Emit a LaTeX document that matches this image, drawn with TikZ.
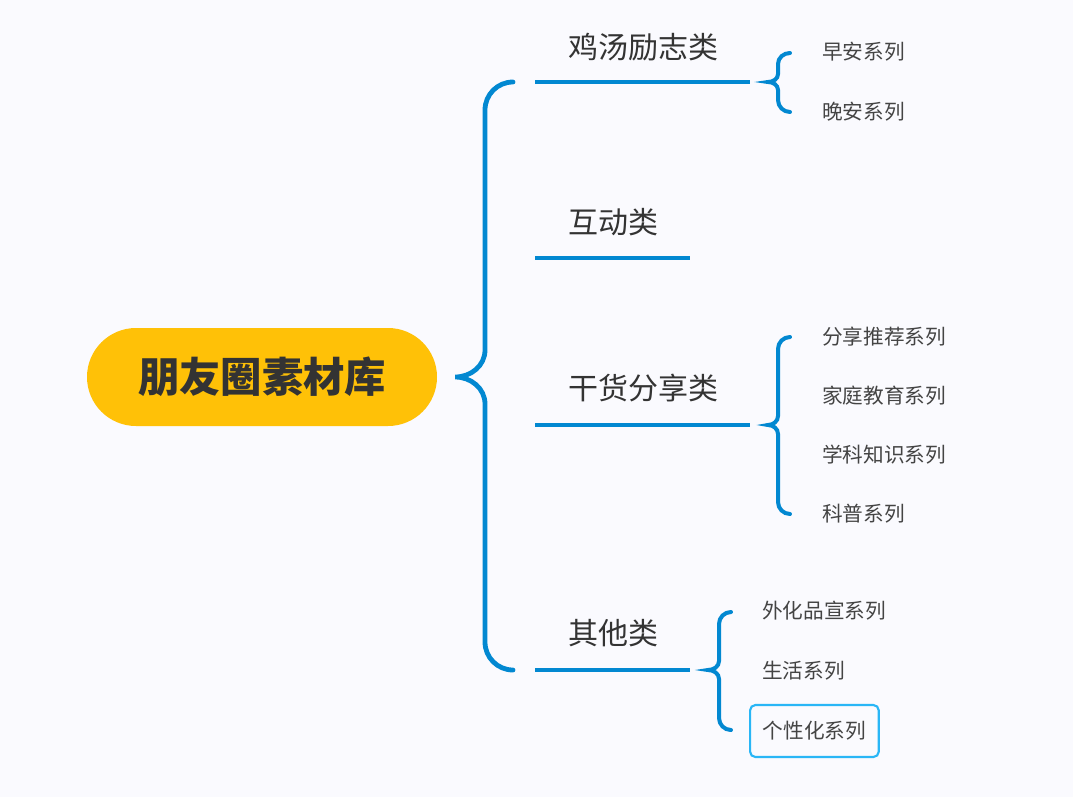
\documentclass[tikz,border=0pt]{standalone}
\usepackage{fontspec}
\newfontfamily\cjk{Noto Sans CJK SC}
\usepackage{tikz}
\usetikzlibrary{positioning, calc}
\definecolor{bgcolor}{RGB}{250,250,254}
\definecolor{linkblue}{RGB}{2,136,209}
\definecolor{rootyellow}{RGB}{255,193,7}
\definecolor{darktext}{RGB}{51,51,51}
\definecolor{itemtext}{RGB}{68,68,68}
\definecolor{boxblue}{RGB}{41,182,246}
\tikzset{
  root/.style={rectangle, rounded corners=36.75pt, fill=rootyellow, text=darktext,
               minimum width=262.5pt, minimum height=73.5pt,
               font=\cjk\bfseries\fontsize{31}{36}\selectfont},
  topic/.style={anchor=west, inner sep=0pt, text=darktext,
                font=\cjk\fontsize{22.5}{27}\selectfont},
  item/.style={anchor=west, inner sep=0pt, text=itemtext,
               font=\cjk\fontsize{15.5}{19}\selectfont},
  pick/.style={anchor=west, draw=boxblue, line width=1.6pt, rounded corners=4pt,
               inner xsep=9.5pt, minimum height=39pt, text=itemtext,
               font=\cjk\fontsize{15.5}{19}\selectfont},
  branch/.style={draw=linkblue, line width=3.6pt},
  bigbrace/.style={draw=linkblue, line width=3.6pt, line cap=round},
  subbrace/.style={draw=linkblue, line width=3pt, line cap=round},
}

\begin{document}
\begin{tikzpicture}[x=0.75pt, y=-0.75pt]
  % Background
  \fill[bgcolor] (0,0) rectangle (1073,797);
  \useasboundingbox (0,0) rectangle (1073,797);

  % Root node
  \node[root] (root) at (262,377) {朋友圈素材库};

  % Topics
  \node[topic] (soup) at (568,47) {鸡汤励志类};
  \node[topic] (talk) at (568,222) {互动类};
  \node[topic] (goods) at (568,388) {干货分享类};
  \node[topic] (other) at (568,633) {其他类};

  % Topic underlines
  \coordinate (soupL) at (535,82);   \coordinate (soupR) at (750,82);
  \coordinate (talkL) at (535,258);  \coordinate (talkR) at (690,258);
  \coordinate (goodsL) at (535,425); \coordinate (goodsR) at (750,425);
  \coordinate (otherL) at (535,670); \coordinate (otherR) at (690,670);
  \draw[branch] (soupL) -- (soupR);
  \draw[branch] (talkL) -- (talkR);
  \draw[branch] (goodsL) -- (goodsR);
  \draw[branch] (otherL) -- (otherR);

  % Main brace
  \draw[bigbrace] ($(soupL)+(-22,0)$) to[out=180,in=90] (485,110) -- (485,350)
    to[out=-90,in=0] ($(root.east)+(18,0)$) to[out=0,in=90] (485,404) -- (485,642)
    to[out=-90,in=180] ($(otherL)+(-22,0)$);

  % Items
  \node[item] (morning) at (822,52) {早安系列};
  \node[item] (night) at (822,112) {晚安系列};

  \node[item] (share) at (822,337) {分享推荐系列};
  \node[item] (family) at (822,396) {家庭教育系列};
  \node[item] (subject) at (822,455) {学科知识系列};
  \node[item] (science) at (822,514) {科普系列};

  \node[item] (promo) at (762,611) {外化品宣系列};
  \node[item] (life) at (762,671) {生活系列};
  \node[pick] (person) at (749,731) {个性化系列};

  % Sub braces
  \draw[subbrace] (790,53) to[out=180,in=90] (778,64) -- (778,74)
    to[out=-90,in=0] ($(soupR)+(18,0)$) to[out=0,in=90] (778,90) -- (778,100)
    to[out=-90,in=180] (790,112);
  \draw[subbrace] (790,337) to[out=180,in=90] (778,349) -- (778,416)
    to[out=-90,in=0] ($(goodsR)+(18,0)$) to[out=0,in=90] (778,434) -- (778,502)
    to[out=-90,in=180] (790,514);
  \draw[subbrace] (731,612) to[out=180,in=90] (719,624) -- (719,661)
    to[out=-90,in=0] ($(otherR)+(18,0)$) to[out=0,in=90] (719,679) -- (719,718)
    to[out=-90,in=180] (731,730);
\end{tikzpicture}
\end{document}
